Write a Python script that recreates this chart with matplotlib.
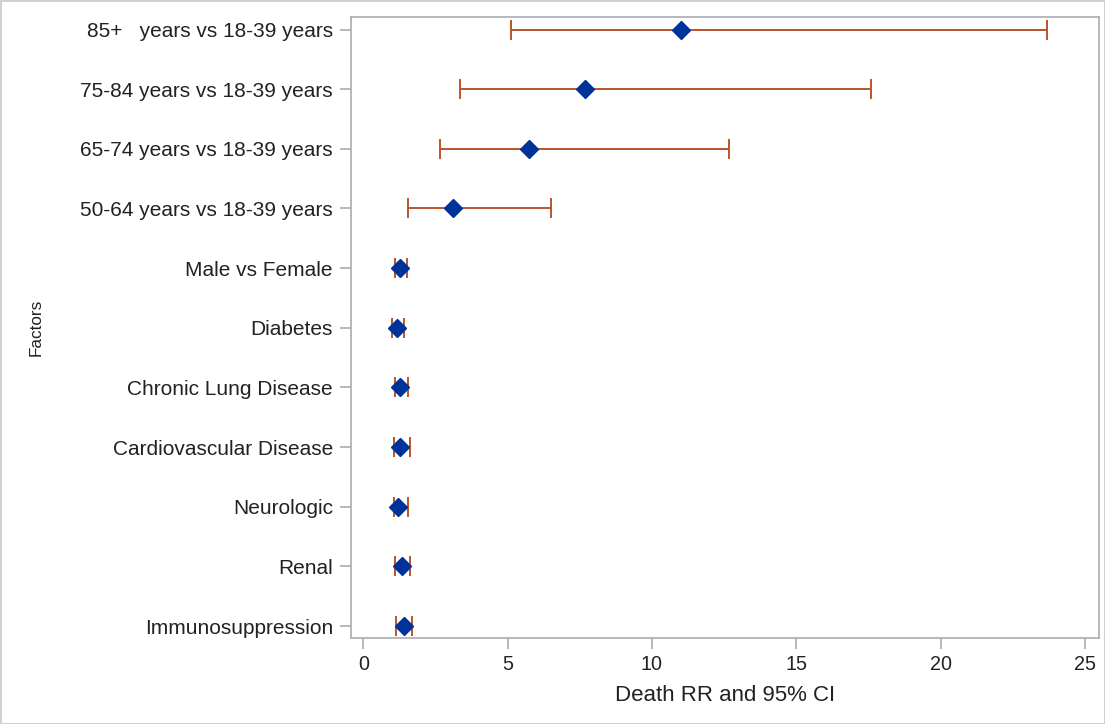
import matplotlib
matplotlib.use("Agg")
import matplotlib.pyplot as plt

factors = ["85+   years vs 18-39 years", "75-84 years vs 18-39 years",
           "65-74 years vs 18-39 years", "50-64 years vs 18-39 years",
           "Male vs Female", "Diabetes", "Chronic Lung Disease",
           "Cardiovascular Disease", "Neurologic", "Renal", "Immunosuppression"]
rr = [11.0, 7.67, 5.73, 3.09, 1.27, 1.15, 1.27, 1.28, 1.20, 1.34, 1.40]
ci_low = [5.1, 3.35, 2.64, 1.53, 1.08, 1.0, 1.11, 1.07, 1.06, 1.11, 1.14]
ci_high = [23.7, 17.6, 12.67, 6.5, 1.5, 1.42, 1.55, 1.6, 1.55, 1.6, 1.7]
xticks = [0, 5, 10, 15, 20, 25]

plt.rcParams['font.family'] = ['Liberation Sans', 'DejaVu Sans']

fig = plt.figure(figsize=(11.05, 7.24), dpi=100)
fig.patch.set_edgecolor('#d0d0d0')
fig.patch.set_linewidth(2)
L, R, T, B = 351, 1099, 17, 638
ax = fig.add_axes([L/1105, 1-B/724, (R-L)/1105, (B-T)/724])

y = list(range(len(factors)))
err_lo = [r - l for r, l in zip(rr, ci_low)]
err_hi = [h - r for r, h in zip(rr, ci_high)]
ax.errorbar(rr, y, xerr=[err_lo, err_hi], fmt='none', ecolor='#B9542A',
            elinewidth=1.4, capsize=7, capthick=1.4, zorder=2)
ax.plot(rr, y, linestyle='none', marker='D', markersize=9.5,
        color='#003399', markeredgecolor='#003399', zorder=3)

ax.set_yticks(y)
ax.set_yticklabels(factors, fontsize=15, color='#222222')
ax.set_ylim(len(factors) - 1 + 0.2, -0.21)
ax.set_xlim(-0.43, 25.49)
ax.set_xticks(xticks)
ax.set_xticklabels([str(t) for t in xticks], fontsize=14.2, color='#222222')
ax.set_xlabel("Death RR and 95% CI", fontsize=16, color='#222222', labelpad=8)
ax.set_ylabel("Factors", fontsize=12.3, color='#222222')
ax.yaxis.set_label_coords(38/1105 - L/1105, 0.5, transform=fig.transFigure) if False else None
ax.yaxis.label.set_position((0, 0.5))

for s in ax.spines.values():
    s.set_color('#a8adb0')
    s.set_linewidth(1.2)
ax.tick_params(axis='both', color='#a8adb0', length=8, width=1.2)
ax.tick_params(axis='y', pad=5)
ax.tick_params(axis='x', pad=4)

fig.canvas.draw()
# place y label at x ~ 38 px
inv = ax.transAxes.inverted()
ax.yaxis.set_label_coords(inv.transform((38 + 6, 0))[0], 0.5)

fig.savefig("out.png", dpi=100, edgecolor=fig.get_edgecolor())
